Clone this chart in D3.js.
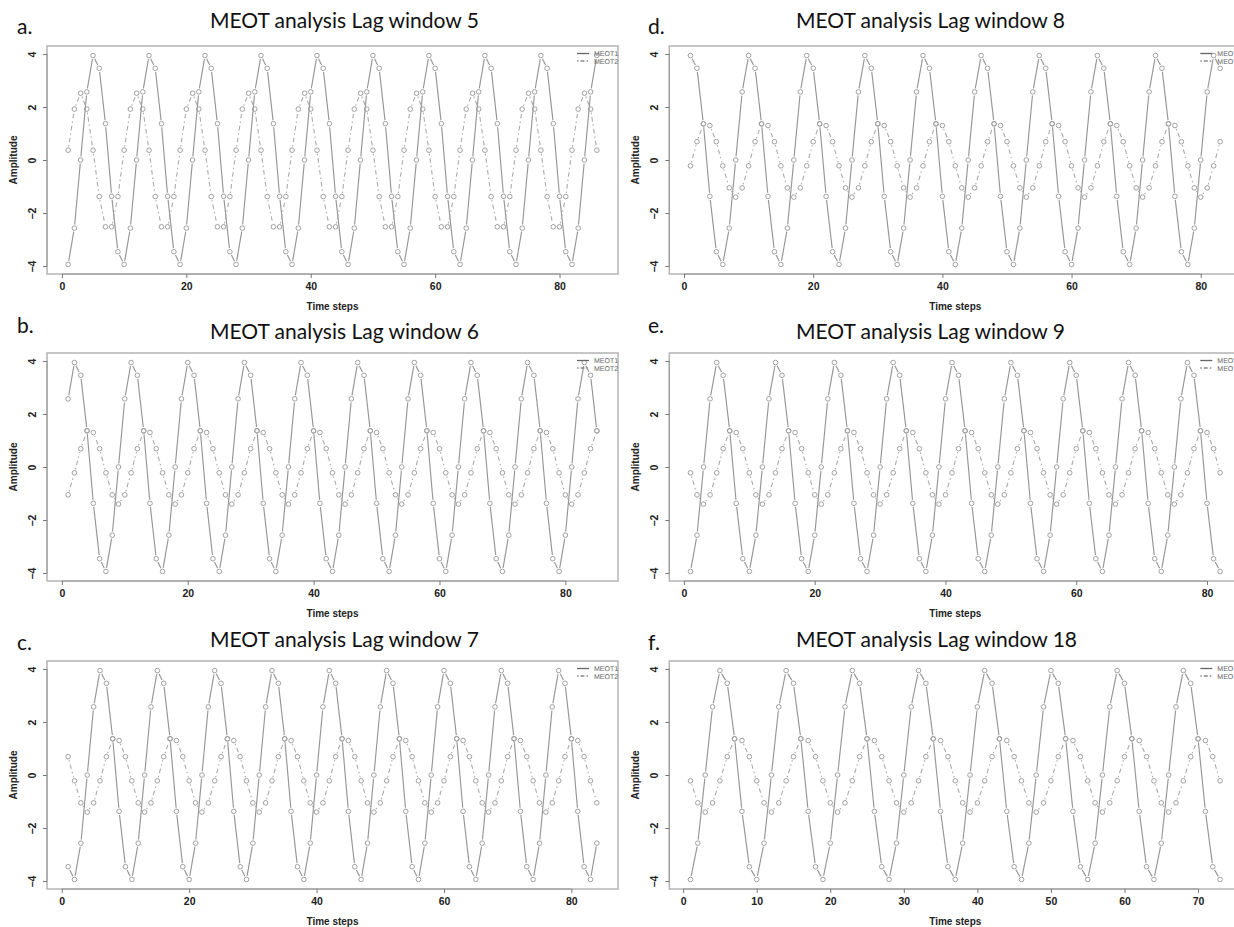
<!DOCTYPE html>
<html><head><meta charset="utf-8">
<script src="https://cdn.jsdelivr.net/npm/d3@7"></script>
<style>body{margin:0;background:#fff} svg{display:block}</style>
</head><body>
<svg id="chart" width="1234" height="927"></svg>
<script>
// ---------- data ----------
const seriesNames = ["MEOT1", "MEOT2"];
const titles = ["MEOT analysis Lag window 5","MEOT analysis Lag window 6","MEOT analysis Lag window 7",
                "MEOT analysis Lag window 8","MEOT analysis Lag window 9","MEOT analysis Lag window 18"];
const letters = ["a.","b.","c.","d.","e.","f."];
const yTicks = [-4,-2,0,2,4];
const xTicks20 = [0,20,40,60,80];
const xTicks10 = [0,10,20,30,40,50,60,70];

const lag5_meot1 = [
 -3.94,-2.57,0,2.57,3.94,3.46,1.37,-1.37,-3.46,
 -3.94,-2.57,0,2.57,3.94,3.46,1.37,-1.37,-3.46,
 -3.94,-2.57,0,2.57,3.94,3.46,1.37,-1.37,-3.46,
 -3.94,-2.57,0,2.57,3.94,3.46,1.37,-1.37,-3.46,
 -3.94,-2.57,0,2.57,3.94,3.46,1.37,-1.37,-3.46,
 -3.94,-2.57,0,2.57,3.94,3.46,1.37,-1.37,-3.46,
 -3.94,-2.57,0,2.57,3.94,3.46,1.37,-1.37,-3.46,
 -3.94,-2.57,0,2.57,3.94,3.46,1.37,-1.37,-3.46,
 -3.94,-2.57,0,2.57,3.94,3.46,1.37,-1.37,-3.46,
 -3.94,-2.57,0,2.57,3.94];
const lag5_meot2 = [
 0.37,1.92,2.52,1.92,0.37,-1.38,-2.52,-2.52,-1.38,
 0.37,1.92,2.52,1.92,0.37,-1.38,-2.52,-2.52,-1.38,
 0.37,1.92,2.52,1.92,0.37,-1.38,-2.52,-2.52,-1.38,
 0.37,1.92,2.52,1.92,0.37,-1.38,-2.52,-2.52,-1.38,
 0.37,1.92,2.52,1.92,0.37,-1.38,-2.52,-2.52,-1.38,
 0.37,1.92,2.52,1.92,0.37,-1.38,-2.52,-2.52,-1.38,
 0.37,1.92,2.52,1.92,0.37,-1.38,-2.52,-2.52,-1.38,
 0.37,1.92,2.52,1.92,0.37,-1.38,-2.52,-2.52,-1.38,
 0.37,1.92,2.52,1.92,0.37,-1.38,-2.52,-2.52,-1.38,
 0.37,1.92,2.52,1.92,0.37];

const lag6_meot1 = [
 2.57,3.94,3.46,1.37,-1.37,-3.46,-3.94,-2.57,0,
 2.57,3.94,3.46,1.37,-1.37,-3.46,-3.94,-2.57,0,
 2.57,3.94,3.46,1.37,-1.37,-3.46,-3.94,-2.57,0,
 2.57,3.94,3.46,1.37,-1.37,-3.46,-3.94,-2.57,0,
 2.57,3.94,3.46,1.37,-1.37,-3.46,-3.94,-2.57,0,
 2.57,3.94,3.46,1.37,-1.37,-3.46,-3.94,-2.57,0,
 2.57,3.94,3.46,1.37,-1.37,-3.46,-3.94,-2.57,0,
 2.57,3.94,3.46,1.37,-1.37,-3.46,-3.94,-2.57,0,
 2.57,3.94,3.46,1.37,-1.37,-3.46,-3.94,-2.57,0,
 2.57,3.94,3.46,1.37];
const lag6_meot2 = [
 -1.05,-0.22,0.69,1.36,1.30,0.69,-0.22,-1.05,-1.40,
 -1.05,-0.22,0.69,1.36,1.30,0.69,-0.22,-1.05,-1.40,
 -1.05,-0.22,0.69,1.36,1.30,0.69,-0.22,-1.05,-1.40,
 -1.05,-0.22,0.69,1.36,1.30,0.69,-0.22,-1.05,-1.40,
 -1.05,-0.22,0.69,1.36,1.30,0.69,-0.22,-1.05,-1.40,
 -1.05,-0.22,0.69,1.36,1.30,0.69,-0.22,-1.05,-1.40,
 -1.05,-0.22,0.69,1.36,1.30,0.69,-0.22,-1.05,-1.40,
 -1.05,-0.22,0.69,1.36,1.30,0.69,-0.22,-1.05,-1.40,
 -1.05,-0.22,0.69,1.36,1.30,0.69,-0.22,-1.05,-1.40,
 -1.05,-0.22,0.69,1.36];

const lag7_meot1 = [
 -3.46,-3.94,-2.57,0,2.57,3.94,3.46,1.37,-1.37,
 -3.46,-3.94,-2.57,0,2.57,3.94,3.46,1.37,-1.37,
 -3.46,-3.94,-2.57,0,2.57,3.94,3.46,1.37,-1.37,
 -3.46,-3.94,-2.57,0,2.57,3.94,3.46,1.37,-1.37,
 -3.46,-3.94,-2.57,0,2.57,3.94,3.46,1.37,-1.37,
 -3.46,-3.94,-2.57,0,2.57,3.94,3.46,1.37,-1.37,
 -3.46,-3.94,-2.57,0,2.57,3.94,3.46,1.37,-1.37,
 -3.46,-3.94,-2.57,0,2.57,3.94,3.46,1.37,-1.37,
 -3.46,-3.94,-2.57,0,2.57,3.94,3.46,1.37,-1.37,
 -3.46,-3.94,-2.57];
const lag7_meot2 = [
 0.69,-0.22,-1.05,-1.40,-1.05,-0.22,0.69,1.36,1.30,
 0.69,-0.22,-1.05,-1.40,-1.05,-0.22,0.69,1.36,1.30,
 0.69,-0.22,-1.05,-1.40,-1.05,-0.22,0.69,1.36,1.30,
 0.69,-0.22,-1.05,-1.40,-1.05,-0.22,0.69,1.36,1.30,
 0.69,-0.22,-1.05,-1.40,-1.05,-0.22,0.69,1.36,1.30,
 0.69,-0.22,-1.05,-1.40,-1.05,-0.22,0.69,1.36,1.30,
 0.69,-0.22,-1.05,-1.40,-1.05,-0.22,0.69,1.36,1.30,
 0.69,-0.22,-1.05,-1.40,-1.05,-0.22,0.69,1.36,1.30,
 0.69,-0.22,-1.05,-1.40,-1.05,-0.22,0.69,1.36,1.30,
 0.69,-0.22,-1.05];

const lag8_meot1 = [
 3.94,3.46,1.37,-1.37,-3.46,-3.94,-2.57,0,2.57,
 3.94,3.46,1.37,-1.37,-3.46,-3.94,-2.57,0,2.57,
 3.94,3.46,1.37,-1.37,-3.46,-3.94,-2.57,0,2.57,
 3.94,3.46,1.37,-1.37,-3.46,-3.94,-2.57,0,2.57,
 3.94,3.46,1.37,-1.37,-3.46,-3.94,-2.57,0,2.57,
 3.94,3.46,1.37,-1.37,-3.46,-3.94,-2.57,0,2.57,
 3.94,3.46,1.37,-1.37,-3.46,-3.94,-2.57,0,2.57,
 3.94,3.46,1.37,-1.37,-3.46,-3.94,-2.57,0,2.57,
 3.94,3.46,1.37,-1.37,-3.46,-3.94,-2.57,0,2.57,
 3.94,3.46];
const lag8_meot2 = [
 -0.22,0.69,1.36,1.30,0.69,-0.22,-1.05,-1.40,-1.05,
 -0.22,0.69,1.36,1.30,0.69,-0.22,-1.05,-1.40,-1.05,
 -0.22,0.69,1.36,1.30,0.69,-0.22,-1.05,-1.40,-1.05,
 -0.22,0.69,1.36,1.30,0.69,-0.22,-1.05,-1.40,-1.05,
 -0.22,0.69,1.36,1.30,0.69,-0.22,-1.05,-1.40,-1.05,
 -0.22,0.69,1.36,1.30,0.69,-0.22,-1.05,-1.40,-1.05,
 -0.22,0.69,1.36,1.30,0.69,-0.22,-1.05,-1.40,-1.05,
 -0.22,0.69,1.36,1.30,0.69,-0.22,-1.05,-1.40,-1.05,
 -0.22,0.69,1.36,1.30,0.69,-0.22,-1.05,-1.40,-1.05,
 -0.22,0.69];

const lag9_meot1 = [
 -3.94,-2.57,0,2.57,3.94,3.46,1.37,-1.37,-3.46,
 -3.94,-2.57,0,2.57,3.94,3.46,1.37,-1.37,-3.46,
 -3.94,-2.57,0,2.57,3.94,3.46,1.37,-1.37,-3.46,
 -3.94,-2.57,0,2.57,3.94,3.46,1.37,-1.37,-3.46,
 -3.94,-2.57,0,2.57,3.94,3.46,1.37,-1.37,-3.46,
 -3.94,-2.57,0,2.57,3.94,3.46,1.37,-1.37,-3.46,
 -3.94,-2.57,0,2.57,3.94,3.46,1.37,-1.37,-3.46,
 -3.94,-2.57,0,2.57,3.94,3.46,1.37,-1.37,-3.46,
 -3.94,-2.57,0,2.57,3.94,3.46,1.37,-1.37,-3.46,
 -3.94];
const lag9_meot2 = [
 -0.22,-1.05,-1.40,-1.05,-0.22,0.69,1.36,1.30,0.69,
 -0.22,-1.05,-1.40,-1.05,-0.22,0.69,1.36,1.30,0.69,
 -0.22,-1.05,-1.40,-1.05,-0.22,0.69,1.36,1.30,0.69,
 -0.22,-1.05,-1.40,-1.05,-0.22,0.69,1.36,1.30,0.69,
 -0.22,-1.05,-1.40,-1.05,-0.22,0.69,1.36,1.30,0.69,
 -0.22,-1.05,-1.40,-1.05,-0.22,0.69,1.36,1.30,0.69,
 -0.22,-1.05,-1.40,-1.05,-0.22,0.69,1.36,1.30,0.69,
 -0.22,-1.05,-1.40,-1.05,-0.22,0.69,1.36,1.30,0.69,
 -0.22,-1.05,-1.40,-1.05,-0.22,0.69,1.36,1.30,0.69,
 -0.22];

const lag18_meot1 = [
 -3.94,-2.57,0,2.57,3.94,3.46,1.37,-1.37,-3.46,
 -3.94,-2.57,0,2.57,3.94,3.46,1.37,-1.37,-3.46,
 -3.94,-2.57,0,2.57,3.94,3.46,1.37,-1.37,-3.46,
 -3.94,-2.57,0,2.57,3.94,3.46,1.37,-1.37,-3.46,
 -3.94,-2.57,0,2.57,3.94,3.46,1.37,-1.37,-3.46,
 -3.94,-2.57,0,2.57,3.94,3.46,1.37,-1.37,-3.46,
 -3.94,-2.57,0,2.57,3.94,3.46,1.37,-1.37,-3.46,
 -3.94,-2.57,0,2.57,3.94,3.46,1.37,-1.37,-3.46,
 -3.94];
const lag18_meot2 = [
 -0.22,-1.05,-1.40,-1.05,-0.22,0.69,1.36,1.30,0.69,
 -0.22,-1.05,-1.40,-1.05,-0.22,0.69,1.36,1.30,0.69,
 -0.22,-1.05,-1.40,-1.05,-0.22,0.69,1.36,1.30,0.69,
 -0.22,-1.05,-1.40,-1.05,-0.22,0.69,1.36,1.30,0.69,
 -0.22,-1.05,-1.40,-1.05,-0.22,0.69,1.36,1.30,0.69,
 -0.22,-1.05,-1.40,-1.05,-0.22,0.69,1.36,1.30,0.69,
 -0.22,-1.05,-1.40,-1.05,-0.22,0.69,1.36,1.30,0.69,
 -0.22,-1.05,-1.40,-1.05,-0.22,0.69,1.36,1.30,0.69,
 -0.22];

// ---------- layout ----------
const panels = [
  {m1: lag5_meot1,  m2: lag5_meot2,  xt: xTicks20, col:0, row:0},
  {m1: lag6_meot1,  m2: lag6_meot2,  xt: xTicks20, col:0, row:1},
  {m1: lag7_meot1,  m2: lag7_meot2,  xt: xTicks20, col:0, row:2},
  {m1: lag8_meot1,  m2: lag8_meot2,  xt: xTicks20, col:1, row:0},
  {m1: lag9_meot1,  m2: lag9_meot2,  xt: xTicks20, col:1, row:1},
  {m1: lag18_meot1, m2: lag18_meot2, xt: xTicks10, col:1, row:2}
];
const colLeft = [47, 669.3], colWidth = [571, 572];
const rowTop = [46, 353, 661], frameH = 228;
const titleX = [210, 796], titleBase = [28, 339, 647];
const letterX = [17, 648], letterBase = [33.5, 333, 650];

const svg = d3.select("#chart");
const tickFont = "'Liberation Sans Narrow','Arial Narrow','Liberation Sans',Arial,sans-serif";

panels.forEach((p, i) => {
  const L = colLeft[p.col], W = colWidth[p.col], T = rowTop[p.row], H = frameH;
  const n = p.m1.length;
  const ext = 0.04 * (n - 1);
  const x = d3.scaleLinear().domain([1 - ext, n + ext]).range([L, L + W]);
  const y = d3.scaleLinear().domain([-4.3, 4.3]).range([T + H, T]);
  const g = svg.append("g");

  g.append("text").attr("x", letterX[p.col]).attr("y", letterBase[p.row])
    .attr("font-family", "Lato, 'Open Sans', sans-serif").attr("font-size", 21)
    .attr("fill", "#111").text(letters[i]);
  const tw = titles[i].endsWith("18") ? 281 : 269;
  g.append("text").attr("x", titleX[p.col]).attr("y", titleBase[p.row])
    .attr("font-family", "Lato, 'Open Sans', sans-serif").attr("font-size", 21)
    .attr("textLength", tw).attr("lengthAdjust", "spacingAndGlyphs")
    .attr("fill", "#111").text(titles[i]);

  const gap = 3.6;
  const drawSeries = (vals, stroke, width, dash) => {
    const pts = vals.map((v, k) => [x(k + 1), y(v)]);
    const segs = [];
    for (let k = 0; k < pts.length - 1; k++) {
      const [x0, y0] = pts[k], [x1, y1] = pts[k + 1];
      const dx = x1 - x0, dy = y1 - y0, len = Math.hypot(dx, dy);
      if (len > 2 * gap) {
        const ux = dx / len, uy = dy / len;
        segs.push([x0 + ux * gap, y0 + uy * gap, x1 - ux * gap, y1 - uy * gap]);
      }
    }
    g.append("g").selectAll("line").data(segs).join("line")
      .attr("x1", d => d[0]).attr("y1", d => d[1]).attr("x2", d => d[2]).attr("y2", d => d[3])
      .attr("stroke", stroke).attr("stroke-width", width)
      .attr("stroke-dasharray", dash || null).attr("fill", "none");
    g.append("g").selectAll("circle").data(pts).join("circle")
      .attr("cx", d => d[0]).attr("cy", d => d[1]).attr("r", 2.3)
      .attr("fill", "none").attr("stroke", "#a0a0a0").attr("stroke-width", 1);
  };
  drawSeries(p.m1, "#969696", 1.15, null);
  drawSeries(p.m2, "#aaaaaa", 1.1, "1.5,3,4.5,3");

  g.append("rect").attr("x", L).attr("y", T).attr("width", W).attr("height", H)
    .attr("fill", "none").attr("stroke", "#b4b4b4").attr("stroke-width", 1.5);

  const xa = g.append("g").attr("transform", `translate(0,${T + H})`)
    .call(d3.axisBottom(x).tickValues(p.xt).tickSize(4).tickPadding(5).tickSizeOuter(0));
  xa.select(".domain").attr("stroke", "#999")
    .attr("d", `M${x(p.xt[0])},0H${x(p.xt[p.xt.length - 1])}`);
  xa.selectAll(".tick line").attr("stroke", "#777");
  xa.selectAll(".tick text").attr("font-family", tickFont).attr("font-size", 10.5)
    .attr("font-weight", "bold").attr("fill", "#222");

  const ya = g.append("g").attr("transform", `translate(${L},0)`)
    .call(d3.axisLeft(y).tickValues(yTicks).tickSize(4).tickSizeOuter(0));
  ya.select(".domain").attr("stroke", "#999").attr("d", `M0,${y(-4)}V${y(4)}`);
  ya.selectAll(".tick line").attr("stroke", "#777");
  ya.selectAll(".tick text")
    .attr("x", null).attr("dy", null).attr("text-anchor", "middle")
    .attr("transform", "translate(-11,0) rotate(-90)")
    .attr("font-family", tickFont).attr("font-size", 10.5)
    .attr("font-weight", "bold").attr("fill", "#222");

  g.append("text").attr("x", L + W / 2).attr("y", T + H + 36)
    .attr("text-anchor", "middle").attr("font-family", tickFont).attr("font-size", 10)
    .attr("font-weight", "bold").attr("fill", "#222").text("Time steps");
  g.append("text").attr("transform", `translate(${L - 30.5},${T + H / 2}) rotate(-90)`)
    .attr("text-anchor", "middle").attr("font-family", tickFont).attr("font-size", 10)
    .attr("font-weight", "bold").attr("fill", "#222").text("Amplitude");

  // legend (right column legends run past the page edge, as in the reference)
  const R = L + W;
  const lg = g.append("g");
  seriesNames.forEach((nm, j) => {
    const ly = T + 7.5 + j * 7.5;
    lg.append("line").attr("x1", R - 41).attr("x2", R - 29).attr("y1", ly).attr("y2", ly)
      .attr("stroke", j === 0 ? "#666" : "#888").attr("stroke-width", 1.3)
      .attr("stroke-dasharray", j === 0 ? null : "1.5,2,4,2");
    lg.append("text").attr("x", R - 24).attr("y", ly + 2.5)
      .attr("font-family", "'Liberation Sans',Arial,sans-serif").attr("font-size", 7)
      .attr("fill", "#666").style("text-rendering", "geometricPrecision").text(nm);
  });
});
</script>
</body></html>
